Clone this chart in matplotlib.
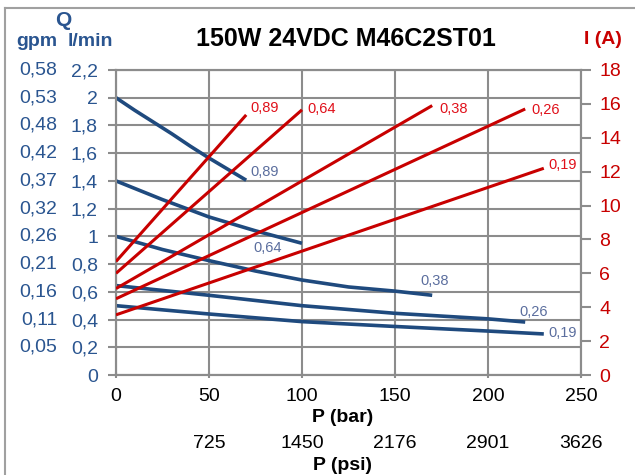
import matplotlib
matplotlib.use("Agg")
import matplotlib.pyplot as plt
import matplotlib.transforms as mtransforms
from matplotlib.lines import Line2D

plt.rcParams['font.family'] = ['Liberation Sans', 'DejaVu Sans']

# ===================== 데이터 =====================
TITLE = "150W 24VDC M46C2ST01"
CURVE_NAMES = ["0,89", "0,64", "0,38", "0,26", "0,19"]

# Q (l/min) vs P (bar)
Q_P = [
    [0, 10, 20, 30, 40, 50, 60, 70],
    [0, 25, 50, 75, 100],
    [0, 25, 50, 75, 100, 125, 150, 170],
    [0, 50, 100, 150, 200, 220],
    [0, 50, 100, 150, 200, 230],
]
Q_VAL = [
    [2.0, 1.91, 1.825, 1.74, 1.65, 1.565, 1.485, 1.405],
    [1.40, 1.265, 1.14, 1.04, 0.95],
    [1.0, 0.905, 0.825, 0.75, 0.685, 0.635, 0.605, 0.575],
    [0.645, 0.575, 0.50, 0.445, 0.405, 0.382],
    [0.50, 0.44, 0.385, 0.35, 0.317, 0.296],
]

# I (A) vs P (bar)
I_P = [[0, 70], [0, 100], [0, 170], [0, 220], [0, 230]]
I_VAL = [[6.7, 15.35], [6.0, 15.65], [5.1, 15.9], [4.5, 15.7], [3.55, 12.2]]

LPM_TICKS = [0, 0.2, 0.4, 0.6, 0.8, 1.0, 1.2, 1.4, 1.6, 1.8, 2.0, 2.2]
LPM_LABELS = ["0", "0,2", "0,4", "0,6", "0,8", "1", "1,2", "1,4", "1,6", "1,8", "2", "2,2"]
GPM_LABELS = ["", "0,05", "0,11", "0,16", "0,21", "0,26", "0,32", "0,37", "0,42", "0,48", "0,53", "0,58"]
AMP_TICKS = [0, 2, 4, 6, 8, 10, 12, 14, 16, 18]
BAR_TICKS = [0, 50, 100, 150, 200, 250]
PSI_LABELS = ["725", "1450", "2176", "2901", "3626"]

# ===================== 스타일 =====================
BLUE = "#1F4A7E"
BLUE_TXT = "#2A5590"
BLUE_LBL = "#5B6E9E"
RED = "#C80000"
RED_LBL = "#E0101A"
GRID = "#8C8C8C"
FS = 14

fig = plt.figure(figsize=(6.35, 4.75), dpi=100)
ax = fig.add_axes([116 / 635, 1 - 375 / 475, 465 / 635, 305 / 475])
ax2 = ax.twinx()

for p, q in zip(Q_P, Q_VAL):
    ax.plot(p, q, color=BLUE, lw=2.6, solid_capstyle='butt', solid_joinstyle='round', zorder=3)
for p, i in zip(I_P, I_VAL):
    ax2.plot(p, i, color=RED, lw=2.2, solid_capstyle='butt', zorder=3)

# 라벨
blue_off = [(4, 8, 'left'), (-20, -5, 'right'), (2, 14, 'center'), (8, 10, 'center'), (5, 1, 'left')]
for name, p, q, (dx, dy, ha) in zip(CURVE_NAMES, Q_P, Q_VAL, blue_off):
    ax.annotate(name, (p[-1], q[-1]), xytext=(dx, dy), textcoords='offset pixels',
                ha=ha, va='center', color=BLUE_LBL, fontsize=10.5)
red_off = [(4, 7), (5, 1), (7, -3), (6, -1), (5, 3)]
for name, p, i, (dx, dy) in zip(CURVE_NAMES, I_P, I_VAL, red_off):
    ax2.annotate(name, (p[-1], i[-1]), xytext=(dx, dy), textcoords='offset pixels',
                 ha='left', va='center', color=RED_LBL, fontsize=10.5)

ax.set_xlim(0, 250)
ax.set_ylim(0, 2.2)
ax2.set_ylim(0, 18)
ax.set_xticks(BAR_TICKS)
ax.set_xticklabels([str(b) for b in BAR_TICKS])
ax.set_yticks(LPM_TICKS)
ax.set_yticklabels(LPM_LABELS)
ax2.set_yticks(AMP_TICKS)
ax2.set_yticklabels([str(a) for a in AMP_TICKS])

ax.grid(True, color=GRID, lw=1.5)
ax.set_axisbelow(True)
for a in (ax, ax2):
    for s in a.spines.values():
        s.set_color(GRID)
        s.set_linewidth(1.5)
ax.tick_params(axis='y', colors=GRID, labelcolor=BLUE_TXT, labelsize=FS, length=6, width=1.5, pad=7)
ax.tick_params(axis='x', colors=GRID, labelcolor='black', labelsize=FS, length=5, width=1.5, direction='inout', pad=7)
ax2.tick_params(axis='y', colors=GRID, labelcolor=RED, labelsize=FS, length=7, width=1.5, pad=6)

# gpm 눈금
tr_y = mtransforms.blended_transform_factory(ax.transAxes, ax.transData)
for v, lab in zip(LPM_TICKS, GPM_LABELS):
    ax.text(-0.126, v, lab, transform=tr_y, ha='right', va='center', color=BLUE_TXT, fontsize=FS)

# psi 눈금
tr_x = mtransforms.blended_transform_factory(ax.transData, ax.transAxes)
for b, lab in zip(BAR_TICKS[1:], PSI_LABELS):
    ax.text(b, -0.223, lab, transform=tr_x, ha='center', va='center', fontsize=FS)

fig.text(343 / 635, 1 - 418 / 475, "P (bar)", ha='center', va='center', fontsize=FS, fontweight='bold')
fig.text(343 / 635, 1 - 466 / 475, "P (psi)", ha='center', va='center', fontsize=FS, fontweight='bold')
fig.text(346 / 635, 1 - 39 / 475, TITLE, ha='center', va='center', fontsize=18, fontweight='bold')
fig.text(63 / 635, 1 - 20 / 475, "Q", ha='center', va='center', fontsize=15, fontweight='bold', color=BLUE_TXT)
fig.text(37 / 635, 1 - 42 / 475, "gpm", ha='center', va='center', fontsize=FS, fontweight='bold', color=BLUE_TXT)
fig.text(90 / 635, 1 - 42 / 475, "l/min", ha='center', va='center', fontsize=FS, fontweight='bold', color=BLUE_TXT)
fig.text(603 / 635, 1 - 40 / 475, "I (A)", ha='center', va='center', fontsize=FS, fontweight='bold', color=RED)

# 바깥 테두리
fig.add_artist(Line2D([5 / 635, 1], [1 - 8 / 475, 1 - 8 / 475], color="#A0A0A0", lw=1.5, transform=fig.transFigure))
fig.add_artist(Line2D([5 / 635, 5 / 635], [0, 1 - 8 / 475], color="#A0A0A0", lw=1.5, transform=fig.transFigure))

fig.savefig("out.png", dpi=100)
